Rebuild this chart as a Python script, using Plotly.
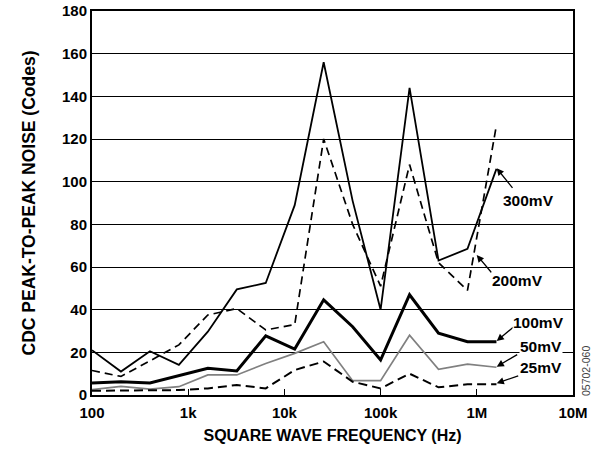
import math
import plotly.graph_objects as go

# ---- data ----
freq_hz = [100, 200, 400, 800, 1600, 3200, 6400, 12800, 25600, 51200,
           100000, 200000, 400000, 800000, 1600000]
noise_300mv = [21, 11, 20.5, 14.1, 29.7, 49.5, 52.5, 89, 156, 91, 40, 144, 63, 68.5, 106]
noise_200mv = [11.5, 8.7, 16, 23.5, 37.5, 40.5, 30.5, 33, 120, 80, 51, 108, 62, 49, 126.5]
noise_100mv = [5.6, 6.2, 5.6, 9, 12.5, 11.3, 27.7, 21.5, 44.6, 32, 16.4, 47, 29, 25, 25]
noise_50mv = [2.5, 4, 2.8, 3.9, 9.4, 9.4, 14.8, 19.5, 25, 6.7, 6.7, 28, 12, 14.5, 13]
noise_25mv = [2, 2, 2, 2.3, 3.1, 4.7, 3.1, 11.7, 15.7, 6.2, 3.1, 10, 3.6, 5, 5]

x_tickvals = [100, 1e3, 1e4, 1e5, 1e6, 1e7]
x_ticktext = ["100", "1k", "10k", "100k", "1M", "10M"]
series_labels = ["300mV", "200mV", "100mV", "50mV", "25mV"]

FONT = "Arial, Liberation Sans, Helvetica, sans-serif"

fig = go.Figure()

styles = [
    (noise_50mv, dict(color="#808080", width=1.7)),
    (noise_25mv, dict(color="black", width=2, dash="9px,5px")),
    (noise_100mv, dict(color="black", width=3)),
    (noise_200mv, dict(color="black", width=1.7, dash="8px,5px")),
    (noise_300mv, dict(color="black", width=1.8)),
]
for vals, line in styles:
    fig.add_trace(go.Scatter(x=freq_hz, y=vals, mode="lines", line=line,
                             showlegend=False, hoverinfo="skip"))

# label positions (paper coords) and arrow heads (paper) with tail offsets (px)
labels = [
    # text, text_x, text_y, head_x, head_y, ax, ay
    ("300mV", 0.908, 0.506, 0.8414, 0.5904, 17, 21),
    ("200mV", 0.884, 0.297, 0.7998, 0.3646, 16, 19),
    ("100mV", 0.928, 0.188, 0.8414, 0.1406, 18, -15),
    ("50mV", 0.933, 0.127, 0.8414, 0.0737, 22, -13),
    ("25mV", 0.933, 0.071, 0.8414, 0.0305, 23, -8),
]
for text, tx, ty, hx, hy, ax, ay in labels:
    fig.add_annotation(x=hx, y=hy, xref="paper", yref="paper", text="",
                       showarrow=True, ax=ax, ay=ay, axref="pixel", ayref="pixel",
                       arrowhead=2, arrowsize=1.1, arrowwidth=1.3,
                       arrowcolor="black", standoff=0)
    fig.add_annotation(x=tx, y=ty, xref="paper", yref="paper", text="<b>%s</b>" % text,
                       showarrow=False, xanchor="center", yanchor="middle",
                       bgcolor="white", borderpad=0,
                       font=dict(family=FONT, size=15.5, color="black"))

fig.add_annotation(x=1.027, y=0.0625, xref="paper", yref="paper", text="05702-060",
                   textangle=-90, showarrow=False, xanchor="center", yanchor="middle",
                   font=dict(family=FONT, size=10.5, color="#444444"))

fig.update_layout(
    width=600, height=449,
    margin=dict(l=92, r=27, t=11, b=54, autoexpand=False),
    paper_bgcolor="white", plot_bgcolor="white",
    font=dict(family=FONT, color="black"),
    xaxis=dict(
        type="log", range=[2, 7], automargin=False,
        tickvals=x_tickvals, ticktext=["<b>%s</b>" % t for t in x_ticktext],
        tickfont=dict(size=15, family=FONT), ticklabelstandoff=3,
        ticks="inside", ticklen=6, tickwidth=1.2, tickcolor="black",
        showgrid=False, zeroline=False,
        showline=True, linecolor="black", linewidth=2, mirror=True,
        title=dict(text="<b>SQUARE WAVE FREQUENCY (Hz)</b>",
                   font=dict(size=16, family=FONT), standoff=10),
    ),
    yaxis=dict(
        range=[0, 180], dtick=20, tick0=0, automargin=False,
        tickfont=dict(size=15, family=FONT), tickprefix="<b>", ticksuffix="</b>",
        ticks="", showgrid=True, gridcolor="black", gridwidth=1.1,
        zeroline=False,
        showline=True, linecolor="black", linewidth=2, mirror=True,
        title=dict(text="<b>CDC PEAK-TO-PEAK NOISE (Codes)</b>",
                   font=dict(size=17.5, family=FONT), standoff=22),
    ),
)

fig.write_html("out.html", config={"displayModeBar": False},
               post_script="document.body.style.margin='0';document.body.style.overflow='hidden';")
